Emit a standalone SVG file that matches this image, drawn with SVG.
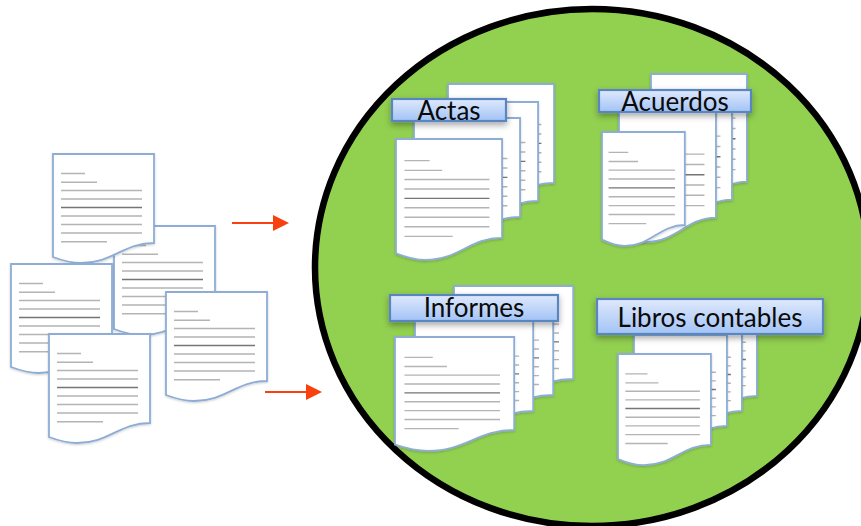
<svg xmlns="http://www.w3.org/2000/svg" width="861" height="526" viewBox="0 0 861 526">
<style>
.page{fill:#fff;stroke:#8dadd6;stroke-width:1.8;vector-effect:non-scaling-stroke;filter:url(#ps)}
.tl{stroke:#b4b4b4;stroke-width:1.4;fill:none;vector-effect:non-scaling-stroke}
.td{stroke:#757575;stroke-width:1.4;fill:none;vector-effect:non-scaling-stroke}
.lab{fill:url(#lg);stroke:#5a86c0;stroke-width:2.2;filter:url(#sh)}
.lt{font-family:"Lato","Liberation Sans",sans-serif;font-size:26px;fill:#0a0a0a;text-anchor:middle}
.conn{stroke:#f9400f;stroke-width:1.8;fill:none;marker-end:url(#ah)}
</style>
<defs>
<linearGradient id="lg" x1="0" y1="0" x2="0" y2="1"><stop offset="0" stop-color="#dfe9fc"/><stop offset="1" stop-color="#a2c3f6"/></linearGradient>
<filter id="sh" x="-10%" y="-30%" width="120%" height="180%"><feDropShadow dx="0" dy="3" stdDeviation="3" flood-color="#000" flood-opacity=".35"/></filter>
<filter id="ps" x="-5%" y="-5%" width="110%" height="110%"><feDropShadow dx="0" dy="1" stdDeviation="1" flood-color="#000" flood-opacity=".2"/></filter>
<marker id="ah" markerUnits="userSpaceOnUse" markerWidth="17" markerHeight="17" refX="0" refY="8" orient="auto"><path d="M0 0L16 8L0 16Z" fill="#f9400f"/></marker>
<g id="doc">
<path class="page" d="M0 0H101V89C70 89 60 109 28 109C18 109 8 106 0 103Z"/>
<path class="tl" d="M8 19.500H32M8 28.300H44M8 36.500H89M8 45H89"/><path class="td" d="M8 53.500H89"/><path class="tl" d="M8 62H89M8 70.500H89M8 79H89M8 87.700H54"/>
</g>
</defs>
<rect width="861" height="526" fill="#fff"/>
<g id="circle"><ellipse cx="592" cy="267.500" rx="277" ry="258.500" fill="#92d050" stroke="#000" stroke-width="6.500"/></g>
<g id="loose-docs">
<use href="#doc" transform="translate(114 226)"/>
<use href="#doc" transform="translate(53 154)"/>
<use href="#doc" transform="translate(11 264)"/>
<use href="#doc" transform="translate(49 334)"/>
<use href="#doc" transform="translate(166 292)"/>
</g>
<g id="connectors">
<path class="conn" d="M232 223H273"/>
<path class="conn" d="M265 392H306"/>
</g>
<g id="actas">
<use href="#doc" transform="translate(448 84) scale(1.05 1.11)"/>
<use href="#doc" transform="translate(432 102) scale(1.05 1.11)"/>
<use href="#doc" transform="translate(414 118) scale(1.05 1.11)"/>
<use href="#doc" transform="translate(396 139) scale(1.05 1.11)"/>
<rect class="lab" x="392" y="99" width="114" height="22"/>
<text class="lt" x="449" y="120">Actas</text>
</g>
<g id="acuerdos">
<use href="#doc" transform="translate(651 74) scale(.95 1.21)"/>
<use href="#doc" transform="translate(635 92) scale(.96 1.21)"/>
<use href="#doc" transform="translate(619 110) scale(.96 1.21)"/>
<use href="#doc" transform="translate(602 132) scale(.82 1.045)"/>
<rect class="lab" x="599" y="90" width="152" height="22"/>
<text class="lt" x="675" y="110.500">Acuerdos</text>
</g>
<g id="informes">
<use href="#doc" transform="translate(454 286) scale(1.18 1.045)"/>
<use href="#doc" transform="translate(434 302) scale(1.18 1.045)"/>
<use href="#doc" transform="translate(415 318) scale(1.17 1.045)"/>
<use href="#doc" transform="translate(395 337) scale(1.18 1.045)"/>
<rect class="lab" x="390" y="295" width="168" height="26"/>
<text class="lt" x="474" y="316.500">Informes</text>
</g>
<g id="libros">
<use href="#doc" transform="translate(664 305) scale(.92 1.02)"/>
<use href="#doc" transform="translate(649 320) scale(.92 1.02)"/>
<use href="#doc" transform="translate(634 335) scale(.92 1.02)"/>
<use href="#doc" transform="translate(618 354) scale(.92 1.02)"/>
<rect class="lab" x="597" y="299" width="226" height="35"/>
<text class="lt" x="710" y="326.500">Libros contables</text>
</g>
</svg>
